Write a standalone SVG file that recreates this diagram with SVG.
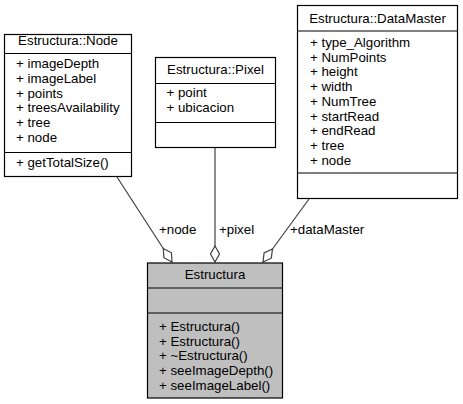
<svg xmlns="http://www.w3.org/2000/svg" width="463" height="404" viewBox="0 0 463 404">
<style>
text{font-family:"Liberation Sans",Arial,Helvetica,sans-serif;font-size:13.3px;fill:#000}
.t{text-anchor:middle}
.box{fill:#fff;stroke:#000;stroke-width:1.2}
.main{fill:#bfbfbf;stroke:#000;stroke-width:1.2}
.sep{stroke:#000;stroke-width:1.2}
.edge{stroke:#404040;stroke-width:1.2;fill:none;marker-end:url(#dia)}
</style>
<defs>
<marker id="dia" markerUnits="userSpaceOnUse" markerWidth="18" markerHeight="12" viewBox="-1 -6 18 12" refX="16" refY="0" orient="auto">
<path d="M0,0 L8,-4.5 L16,0 L8,4.5 Z" fill="#fff" stroke="#404040" stroke-width="1.2"/>
</marker>
</defs>
<rect width="463" height="404" fill="#fff"/>
<g id="connectors">
<path class="edge" d="M117,177 L172,262"/>
<path class="edge" d="M215,148 L215,262"/>
<path class="edge" d="M309,199 L263,262"/>
<text x="159" y="234">+node</text>
<text x="219" y="234">+pixel</text>
<text x="290" y="234">+dataMaster</text>
</g>
<g id="node_Node">
<rect class="box" x="4.5" y="34.5" width="127" height="142"/>
<line class="sep" x1="4.5" y1="53.5" x2="131.5" y2="53.5"/>
<line class="sep" x1="4.5" y1="152.5" x2="131.5" y2="152.5"/>
<text class="t" x="68" y="45">Estructura::Node</text>
<text x="16" y="68">+ imageDepth</text>
<text x="16" y="82.8">+ imageLabel</text>
<text x="16" y="97.6">+ points</text>
<text x="16" y="112.4">+ treesAvailability</text>
<text x="16" y="127.2">+ tree</text>
<text x="16" y="142">+ node</text>
<text x="16" y="167">+ getTotalSize()</text>
</g>
<g id="node_Pixel">
<rect class="box" x="155.5" y="57.5" width="120" height="90"/>
<line class="sep" x1="155.5" y1="83.5" x2="275.5" y2="83.5"/>
<line class="sep" x1="155.5" y1="122.5" x2="275.5" y2="122.5"/>
<text class="t" x="215.5" y="73.5">Estructura::Pixel</text>
<text x="166.5" y="97">+ point</text>
<text x="166.5" y="111.7">+ ubicacion</text>
</g>
<g id="node_DataMaster">
<rect class="box" x="297.5" y="5.5" width="160" height="193"/>
<line class="sep" x1="297.5" y1="31" x2="457.5" y2="31"/>
<line class="sep" x1="297.5" y1="173" x2="457.5" y2="173"/>
<text class="t" x="377.5" y="23">Estructura::DataMaster</text>
<text x="310" y="47">+ type_Algorithm</text>
<text x="310" y="61.7">+ NumPoints</text>
<text x="310" y="76.4">+ height</text>
<text x="310" y="91.1">+ width</text>
<text x="310" y="105.8">+ NumTree</text>
<text x="310" y="120.5">+ startRead</text>
<text x="310" y="135.2">+ endRead</text>
<text x="310" y="149.9">+ tree</text>
<text x="310" y="164.6">+ node</text>
</g>
<g id="node_Estructura">
<rect class="main" x="147.5" y="263" width="135" height="135"/>
<line class="sep" x1="147.5" y1="288" x2="282.5" y2="288"/>
<line class="sep" x1="147.5" y1="313" x2="282.5" y2="313"/>
<text class="t" x="215" y="279">Estructura</text>
<text x="159" y="331">+ Estructura()</text>
<text x="159" y="345.7">+ Estructura()</text>
<text x="159" y="360.4">+ ~Estructura()</text>
<text x="159" y="375.1">+ seeImageDepth()</text>
<text x="159" y="389.8">+ seeImageLabel()</text>
</g>
</svg>
